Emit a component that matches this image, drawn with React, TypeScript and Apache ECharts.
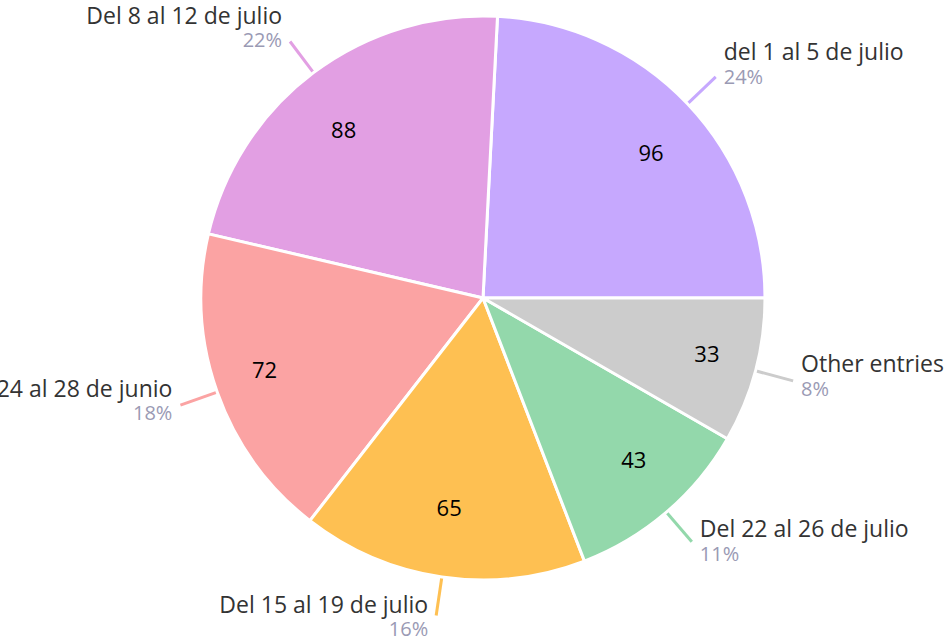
import React, { useEffect, useRef } from "react";
import * as echarts from "echarts";

const categories = [
  "del 1 al 5 de julio",
  "Del 8 al 12 de julio",
  "Del 24 al 28 de junio",
  "Del 15 al 19 de julio",
  "Del 22 al 26 de julio",
  "Other entries",
];
const values = [96, 88, 72, 65, 43, 33];
const colors = ["#C6A8FE", "#E29FE3", "#FBA3A3", "#FEC052", "#93D8AB", "#CCCCCC"];

const CX = 483;
const CY = 298;

export default function App() {
  const ref = useRef<HTMLDivElement>(null);
  useEffect(() => {
    document.body.style.margin = "0";
    const chart = echarts.init(ref.current!, null, { renderer: "svg" });
    const total = values.reduce((a, b) => a + b, 0);
    const data = categories.map((name, i) => ({
      name,
      value: values[i],
      itemStyle: { color: colors[i] },
      labelLine: { lineStyle: { color: colors[i] } },
    }));
    const font = "'Open Sans', sans-serif";
    chart.setOption({
      animation: false,
      series: [
        {
          type: "pie",
          center: [CX, CY],
          radius: [0, 282],
          startAngle: 0,
          clockwise: false,
          avoidLabelOverlap: false,
          itemStyle: { borderColor: "#fff", borderWidth: 3 },
          label: {
            show: true,
            position: "outside",
            distanceToLabelLine: 8,
            fontFamily: font,
            formatter: (p: any) =>
              `{name|${p.name}}\n{pct|${Math.round((p.value / total) * 100)}%}`,
            rich: {
              name: { fontSize: 23, color: "#333333", fontFamily: font, lineHeight: 27 },
              pct: { fontSize: 20, color: "#9A9AB4", fontFamily: font, lineHeight: 23 },
            },
          },
          labelLine: { show: true, length: 39, length2: 0, lineStyle: { width: 3 } },
          labelLayout: (params: any) => {
            const pts = params.labelLinePoints;
            if (!pts || pts.length < 2) return {};
            const a = pts[0];
            const b = pts[pts.length - 1];
            const len = Math.hypot(b[0] - a[0], b[1] - a[1]) || 1;
            const sin = -(b[1] - a[1]) / len;
            return { dy: -8.5 * (1 + sin), labelLinePoints: pts };
          },
          emphasis: { disabled: true },
          data,
        },
        {
          type: "pie",
          center: [CX, CY],
          radius: [162, 282],
          startAngle: 0,
          clockwise: false,
          silent: true,
          itemStyle: { color: "transparent", borderWidth: 0 },
          label: {
            show: true,
            position: "inside",
            formatter: "{c}",
            color: "#000",
            fontSize: 22,
            fontFamily: font,
          },
          labelLayout: (params: any) => {
            const r = params.labelRect;
            if (!r) return {};
            const cx = r.x + r.width / 2;
            const cy = r.y + r.height / 2;
            return { dx: (cx - CX) * 0.03, dy: -(cy - CY) * 0.06 };
          },
          labelLine: { show: false },
          emphasis: { disabled: true },
          data: categories.map((name, i) => ({ name, value: values[i] })),
        },
      ],
    });
    return () => chart.dispose();
  }, []);
  return (
    <div
      ref={ref}
      style={{ position: "absolute", left: 0, top: 0, width: 948, height: 644, background: "#fff" }}
    />
  );
}
